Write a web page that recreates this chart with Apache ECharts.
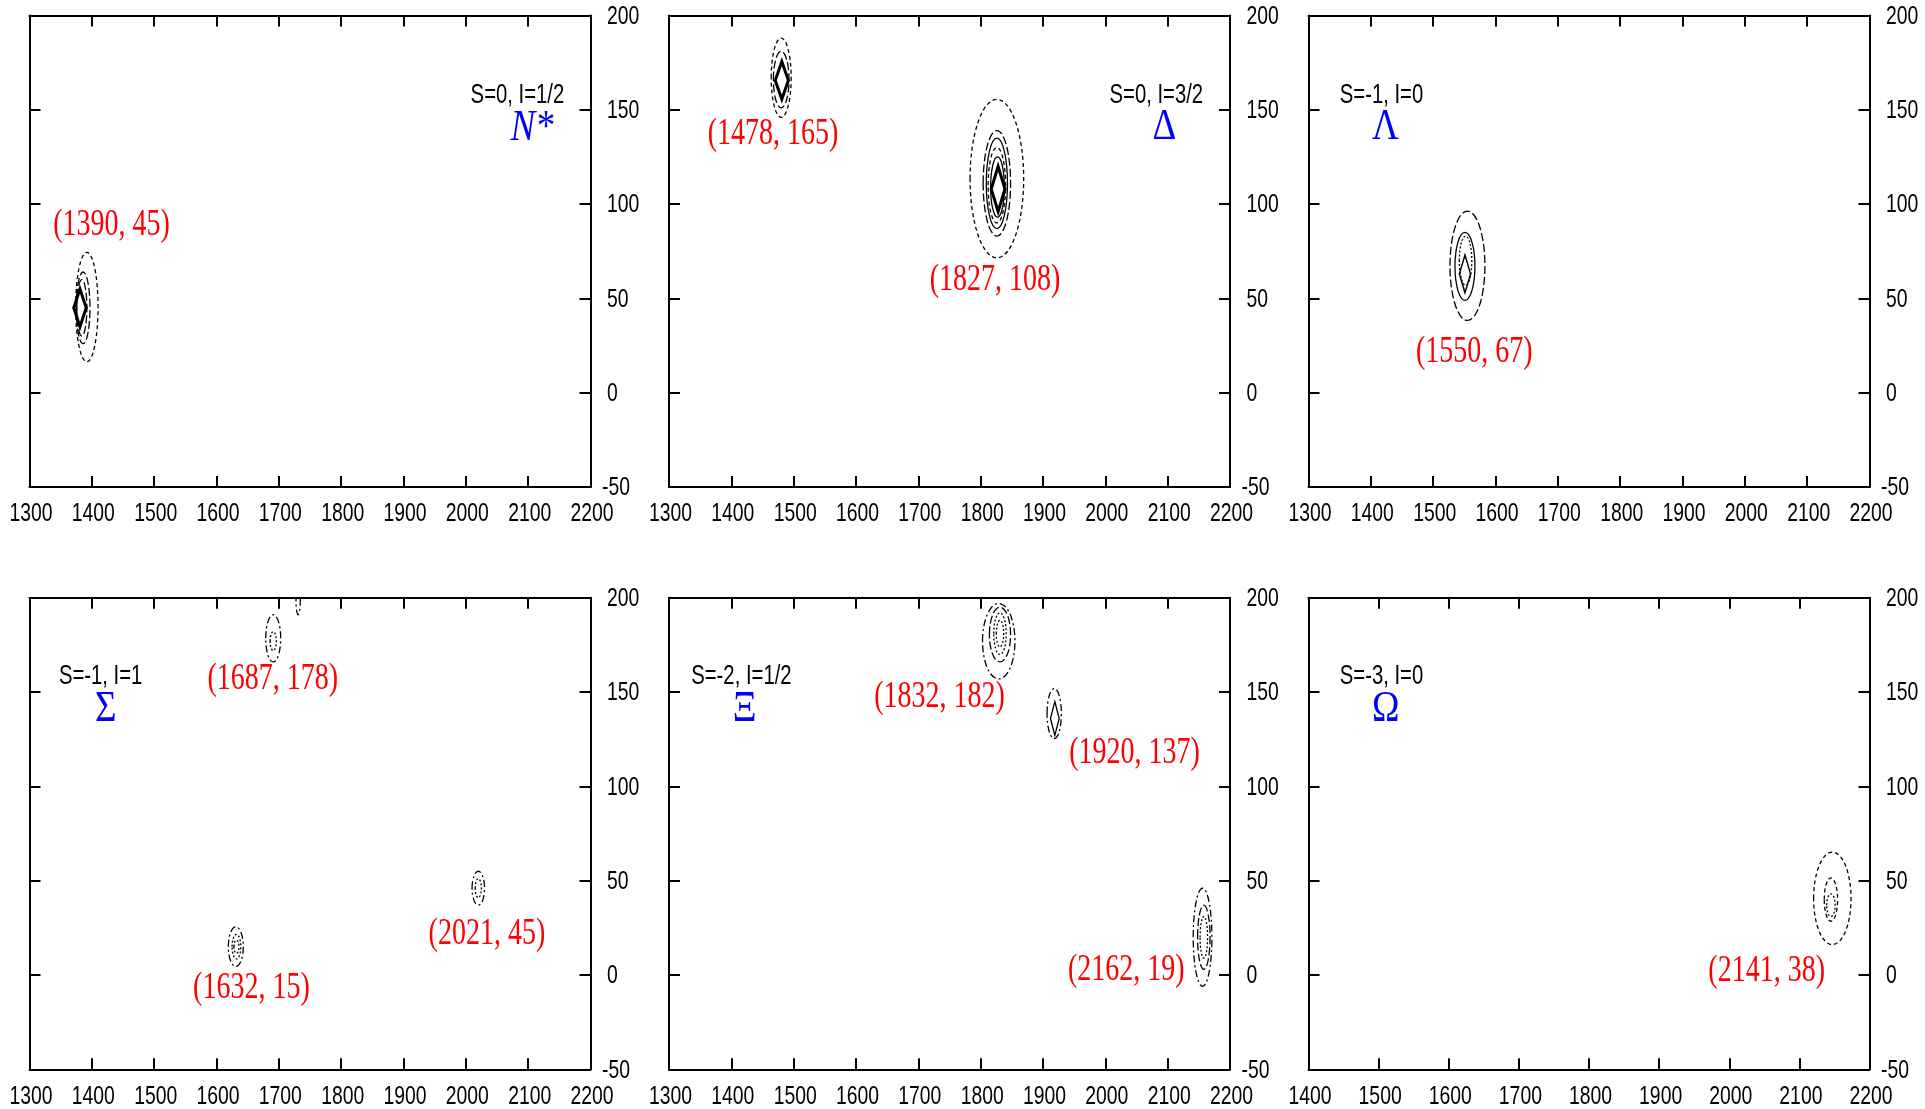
<!DOCTYPE html>
<html><head><meta charset="utf-8">
<script src="https://cdn.jsdelivr.net/npm/echarts@6/dist/echarts.min.js"></script>
<style>html,body{margin:0;padding:0;background:#fff}#c{width:1925px;height:1109px}</style>
</head><body><div id="c"></div>
<script>
// ================= DATA =================
const panelBaryon  = ['N*', 'Δ', 'Λ', 'Σ', 'Ξ', 'Ω'];
const panelQuantum = ['S=0, I=1/2', 'S=0, I=3/2', 'S=-1, I=0', 'S=-1, I=1', 'S=-2, I=1/2', 'S=-3, I=0'];
const xAxisMin = [1300, 1300, 1300, 1300, 1300, 1400];
const xAxisMax = [2200, 2200, 2200, 2200, 2200, 2200];
const xTickStep = 100;
const yAxisMin = -50, yAxisMax = 200, yTickStep = 50;
const xTickLabels = [1300, 1400, 1500, 1600, 1700, 1800, 1900, 2000, 2100, 2200];
const yTickLabels = [-50, 0, 50, 100, 150, 200];

// poles (labelled values)
const polePanel = [0, 1, 1, 2, 3, 3, 3, 4, 4, 4, 5];
const poleMass  = [1390, 1478, 1827, 1550, 1687, 1632, 2021, 1832, 1920, 2162, 2141];
const poleWidth = [45, 165, 108, 67, 178, 15, 45, 182, 137, 19, 38];

// contour rings: owning pole, centre (mass, width), half extent (mass, width)
const ringPole  = [0, 0, 0, 1, 1, 2, 2, 2, 2, 2, 3, 3, 3, 4, 4, 5, 5, 5, 6, 6, 7, 7, 7, 7, 8, 9, 9, 9, 10, 10, 10, 4];
const ringMass  = [1392, 1386, 1384, 1480, 1480, 1826, 1826, 1826, 1826, 1827, 1555, 1551, 1552, 1691, 1691, 1631, 1632, 1632, 2020, 2020, 1829, 1831, 1831, 1831, 1918, 2156, 2158, 2158, 2147, 2145, 2145, 1731];
const ringWidth = [45.4, 45, 45, 167, 166, 113.5, 111, 111, 110, 109, 67.3, 67, 70, 178.5, 177, 15, 15, 15, 46, 46, 177, 180.5, 181, 181, 138.6, 20, 20, 20, 40.6, 40, 37, 199];
const ringSpanM = [18, 11, 8, 16, 12.5, 43, 22, 17, 14, 11, 28, 16, 10, 12, 5, 12, 7, 4, 10, 5, 26, 17, 10, 6, 11.5, 15, 10, 6, 26.7, 9.5, 6, 3.5];
const ringSpanW = [29, 19, 15, 21, 15, 42, 28, 24, 20, 16, 29, 18, 13, 12.5, 5, 10.5, 6.5, 3.5, 9, 5, 20, 14.5, 11, 7, 13.3, 26, 17, 11, 24.5, 11.5, 6, 8];

// innermost diamond-shaped contours
const diamondPole  = [0, 1, 2, 3, 8];
const diamondMass  = [1381, 1481, 1828, 1551, 1919];
const diamondWidth = [45, 165.6, 108, 63, 136];
const diamondSpanM = [10, 10.5, 11, 9, 7];
const diamondSpanW = [10, 10, 12, 10, 9];

// ================= STYLE / LAYOUT =================
const ringDash = ['dash','long','long','dash','long','dash','long','solid','dash','solid','long','solid','dot',
  'dashdot','dot','dashdot','dot','dot','dashdot','dot','dashdot','long','dot','dot','dashdot','dashdot','long','dot','dash','dash','dot','dashdot'];
const dashPatterns = { dash: [4, 3], long: [8, 3], dashdot: [7, 3, 2, 3], dot: [2, 2], solid: null };
const diamondLineWidth = [3, 3, 3, 1.5, 1.3];

const gridLeft = [29.5, 669, 1308.5, 29.5, 669, 1308.5];
const gridTop  = [15.5, 15.5, 15.5, 597.8, 597.8, 597.8];
const gridW = 561, gridH = 471.5;
const labelOffset = [[26,-83],[-7,53],[-2.5,91.5],[10,85.5],[2,40],[15,42],[8,44],[-61,66],[79,37],[-80,31.5],[-61.5,68]];
const quantumPos = [[517.4,95.6],[1156.3,95.6],[1381.5,95.6],[100.6,676.4],[741.4,676.4],[1381.5,676.4]];
const baryonPos  = [[532,128],[1164.3,127],[1385.3,127],[105.7,709],[744.7,709],[1385.7,709]];

const SANS = "'Liberation Sans', 'Helvetica', sans-serif";
const SERIF = "'Liberation Serif', 'DejaVu Serif', serif";
const TICK_FONT = '26.5px ' + SANS;
const TICK_SCALE_X = 0.73;

// ================= BUILD =================
const grids = [], xAxes = [], yAxes = [], series = [];
for (let p = 0; p < 6; p++) {
  grids.push({ left: gridLeft[p], top: gridTop[p], width: gridW, height: gridH, containLabel: false });
  const axLine = { show: true, onZero: false, lineStyle: { color: '#000', width: 2 } };
  const tick = { show: true, inside: true, length: 11, lineStyle: { color: '#000', width: 2 } };
  const common = { type: 'value', gridIndex: p, axisLine: axLine, axisTick: tick, splitLine: { show: false }, axisLabel: { show: false } };
  xAxes.push(Object.assign({ position: 'bottom', min: xAxisMin[p], max: xAxisMax[p], interval: xTickStep }, common));
  xAxes.push(Object.assign({ position: 'top', min: xAxisMin[p], max: xAxisMax[p], interval: xTickStep }, common));
  yAxes.push(Object.assign({ position: 'left', min: yAxisMin, max: yAxisMax, interval: yTickStep }, common));
  yAxes.push(Object.assign({ position: 'right', min: yAxisMin, max: yAxisMax, interval: yTickStep }, common));
  const ax = { xAxisIndex: 2 * p, yAxisIndex: 2 * p + 1 };

  // contour rings
  const ringData = [];
  ringPole.forEach((pi, i) => { if (polePanel[pi] === p) ringData.push([ringMass[i], ringWidth[i], ringSpanM[i], ringSpanW[i], i]); });
  series.push(Object.assign({
    type: 'custom', clip: true, data: ringData, silent: true,
    renderItem: (params, api) => {
      const c = api.coord([api.value(0), api.value(1)]);
      const s = api.size([api.value(2), api.value(3)]);
      const k = api.value(4);
      return { type: 'ellipse', shape: { cx: c[0], cy: c[1], rx: s[0], ry: s[1] },
        style: { fill: 'none', stroke: '#000', lineWidth: 1.3, lineDash: dashPatterns[ringDash[k]] } };
    }
  }, ax));

  // inner diamonds
  const dData = [];
  diamondPole.forEach((pi, i) => { if (polePanel[pi] === p) dData.push([diamondMass[i], diamondWidth[i], diamondSpanM[i], diamondSpanW[i], i]); });
  series.push(Object.assign({
    type: 'custom', clip: true, data: dData, silent: true,
    renderItem: (params, api) => {
      const m = api.value(0), w = api.value(1), hm = api.value(2), hw = api.value(3), k = api.value(4);
      const pts = [api.coord([m - hm, w]), api.coord([m, w + hw]), api.coord([m + hm, w]), api.coord([m, w - hw])];
      return { type: 'polygon', shape: { points: pts },
        style: { fill: 'none', stroke: '#000', lineWidth: diamondLineWidth[k], lineJoin: 'miter' } };
    }
  }, ax));

  // red pole labels
  const lData = [];
  poleMass.forEach((m, i) => { if (polePanel[i] === p) lData.push([m, poleWidth[i], i]); });
  series.push(Object.assign({
    type: 'custom', clip: false, data: lData, silent: true,
    renderItem: (params, api) => {
      const m = api.value(0), w = api.value(1), k = api.value(2);
      const c = api.coord([m, w]);
      return { type: 'text', x: c[0] + labelOffset[k][0], y: c[1] + labelOffset[k][1], scaleY: 1.32,
        style: { text: '(' + m + ', ' + w + ')', fill: '#ff0000', font: '28px ' + SERIF,
          align: 'center', verticalAlign: 'middle', textAlign: 'center', textVerticalAlign: 'middle' } };
    }
  }, ax));

  // x tick labels (bottom), drawn through the axis scale
  const xl = xTickLabels.filter(v => v >= xAxisMin[p] && v <= xAxisMax[p]).map(v => [v, yAxisMin]);
  series.push(Object.assign({
    type: 'custom', clip: false, data: xl, silent: true,
    renderItem: (params, api) => {
      const v = api.value(0);
      const c = api.coord([v, api.value(1)]);
      return { type: 'text', x: c[0] + 1.5, y: c[1] + 27, scaleX: TICK_SCALE_X,
        style: { text: String(v), fill: '#000', font: TICK_FONT, align: 'center', verticalAlign: 'middle',
          textAlign: 'center', textVerticalAlign: 'middle' } };
    }
  }, ax));

  // y tick labels (right)
  const yl = yTickLabels.map(v => [xAxisMax[p], v]);
  series.push(Object.assign({
    type: 'custom', clip: false, data: yl, silent: true,
    renderItem: (params, api) => {
      const v = api.value(1);
      const c = api.coord([api.value(0), v]);
      return { type: 'text', x: c[0] + (v < 0 ? 11.5 : 16.5), y: c[1] + 1, scaleX: TICK_SCALE_X,
        style: { text: String(v), fill: '#000', font: TICK_FONT, align: 'left', verticalAlign: 'middle',
          textAlign: 'left', textVerticalAlign: 'middle' } };
    }
  }, ax));
}

const graphics = [];
for (let p = 0; p < 6; p++) {
  graphics.push({ type: 'text', x: quantumPos[p][0], y: quantumPos[p][1], scaleX: 0.78, scaleY: 1.05, silent: true,
    style: { text: panelQuantum[p], fill: '#000', font: "26px 'Liberation Sans', sans-serif", align: 'center', verticalAlign: 'middle' } });
  graphics.push({ type: 'text', x: baryonPos[p][0], y: baryonPos[p][1], scaleY: 1.2, silent: true,
    style: { text: panelBaryon[p], fill: '#0000ff', font: (p === 0 ? 'italic ' : '') + '37px ' + SERIF, align: 'center', verticalAlign: 'middle' } });
}

const chart = echarts.init(document.getElementById('c'), null, { renderer: 'canvas' });
chart.setOption({
  backgroundColor: '#fff', animation: false,
  grid: grids, xAxis: xAxes, yAxis: yAxes, series: series, graphic: graphics
});
</script></body></html>
